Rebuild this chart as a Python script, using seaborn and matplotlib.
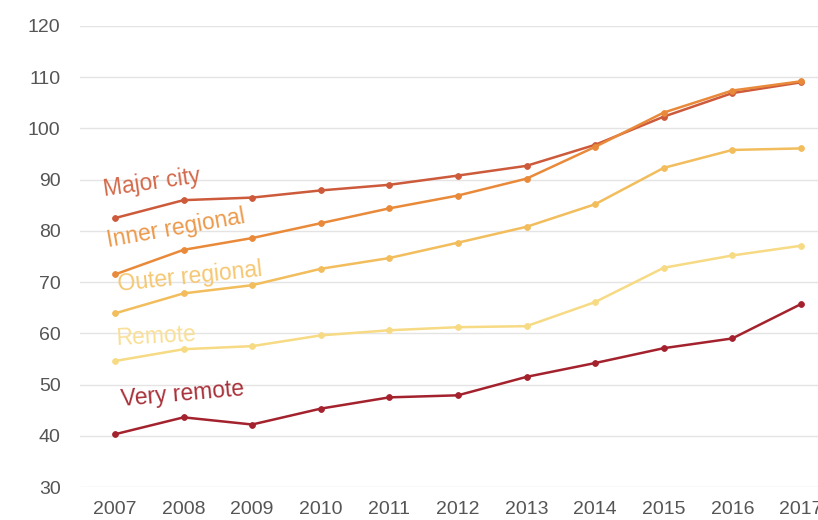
import matplotlib
matplotlib.use("Agg")
import matplotlib.pyplot as plt
import seaborn as sns
import pandas as pd

years = list(range(2007, 2018))
major_city = [82.5, 86.0, 86.5, 87.9, 89.0, 90.8, 92.7, 96.8, 102.3, 106.9, 109.0]
inner_regional = [71.5, 76.3, 78.6, 81.5, 84.4, 86.9, 90.2, 96.4, 103.1, 107.4, 109.2]
outer_regional = [63.9, 67.8, 69.4, 72.6, 74.7, 77.7, 80.8, 85.2, 92.3, 95.8, 96.1]
remote = [54.6, 56.9, 57.5, 59.6, 60.6, 61.2, 61.4, 66.1, 72.8, 75.2, 77.1]
very_remote = [40.3, 43.6, 42.2, 45.3, 47.5, 47.9, 51.5, 54.2, 57.1, 59.0, 65.7]

series_names = ["Major city", "Inner regional", "Outer regional", "Remote", "Very remote"]
series_values = [major_city, inner_regional, outer_regional, remote, very_remote]
colors = ["#cc5a3b", "#e98a3a", "#f2bd5c", "#f7da84", "#a3222d"]
y_ticks = [30, 40, 50, 60, 70, 80, 90, 100, 110, 120]

rows = []
for name, vals in zip(series_names, series_values):
    for yr, v in zip(years, vals):
        rows.append({"year": yr, "value": v, "area": name})
df = pd.DataFrame(rows)

sns.set_theme(style="white")
plt.rcParams["font.family"] = ["Liberation Sans", "DejaVu Sans"]

fig = plt.figure(figsize=(8.18, 5.2), dpi=100)
ax = fig.add_axes([80 / 818, 33 / 520, 738 / 818, 461 / 520])

palette = dict(zip(series_names, colors))
sns.lineplot(data=df, x="year", y="value", hue="area", palette=palette,
             hue_order=series_names, marker="o", markersize=4.2,
             markeredgewidth=0.6, linewidth=1.8, legend=False, ax=ax,
             zorder=3)
for line, c in zip(ax.lines, colors):
    line.set_markeredgecolor(c)

ax.set_xlim(2006.49, 2017.25)
ax.set_ylim(30, 120)
ax.set_yticks(y_ticks)
ax.set_xticks(years)
ax.yaxis.grid(True, color="#e4e4e4", linewidth=1.0, zorder=0)
ax.xaxis.grid(False)
for s in ax.spines.values():
    s.set_visible(False)
ax.tick_params(axis="both", length=0, labelsize=14, colors="#555555")
ax.tick_params(axis="y", pad=14)
ax.tick_params(axis="x", pad=10)
ax.set_xlabel("")
ax.set_ylabel("")

# Inline series labels
label_specs = [
    ("Major city", 2007.54, 89.4, 8),
    ("Inner regional", 2007.89, 80.4, 10),
    ("Outer regional", 2008.09, 71.0, 6),
    ("Remote", 2007.6, 59.4, 3),
    ("Very remote", 2007.98, 48.1, 5),
]
label_colors = ["#d2694a", "#ec9a4c", "#f5c771", "#f9df96", "#a83039"]
for (txt, x, y, rot), c in zip(label_specs, label_colors):
    ax.text(x, y, txt, color=c, fontsize=16.5, rotation=rot,
            ha="center", va="center", rotation_mode="anchor", zorder=4)

fig.savefig("out.png", dpi=100)
